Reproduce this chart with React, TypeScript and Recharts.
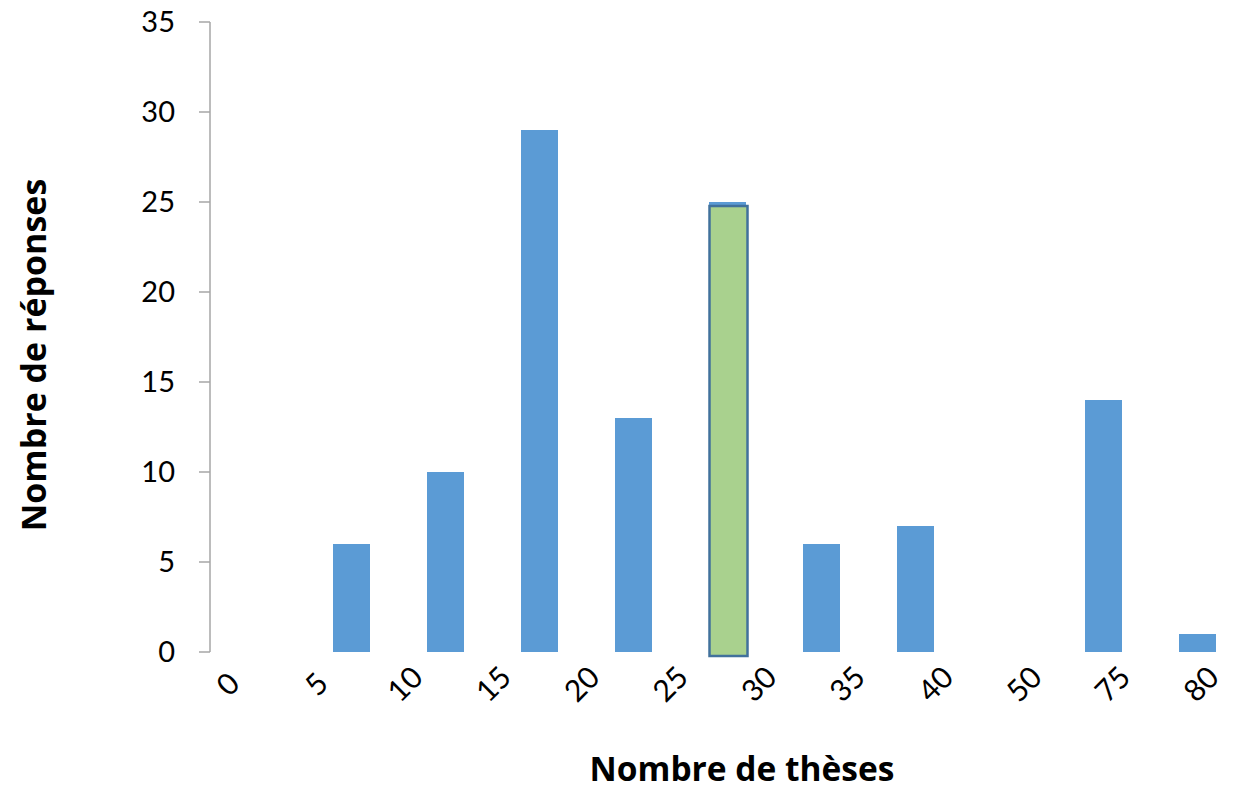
import React from "react";
import { BarChart, Bar, XAxis, YAxis, Label } from "recharts";

// intervals of "nombre de thèses" and how many answers fell in each
const ranges = ["0-5", "5-10", "10-15", "15-20", "20-25", "25-30", "30-35", "35-40", "40-50", "50-75", "75-80"];
const responses = [0, 6, 10, 29, 13, 25, 6, 7, 0, 14, 1];
const highlighted = [false, false, false, false, false, true, false, false, false, false, false];
const boundaryLabels = ["0", "5", "10", "15", "20", "25", "30", "35", "40", "50", "75", "80"];
const yTicks = [0, 5, 10, 15, 20, 25, 30, 35];

const data = ranges.map((r, i) => ({
  range: r,
  idx: i,
  responses: responses[i],
  highlight: highlighted[i],
}));
const boundaryTicks = boundaryLabels.map((_, i) => i);

const FONT = "Lato, 'Open Sans', sans-serif";
const TITLE_FONT = "'Open Sans', Lato, sans-serif";
const BLUE = "#5b9bd5";

const BarShape = (props: any) => {
  const { x, y, width, height, payload } = props;
  if (!height || height <= 0) return null;
  return (
    <g>
      <rect x={x} y={y} width={width} height={height} fill={BLUE} />
      {payload.highlight && (
        <rect
          x={x + 0.5}
          y={y + 4}
          width={width + 1}
          height={height}
          fill="#a9d18e"
          stroke="#41719c"
          strokeWidth={2.5}
        />
      )}
    </g>
  );
};

const BoundaryTick = (props: any) => {
  const { x, y, payload } = props;
  const cx = x;
  const cy = y + 1;
  return (
    <text
      x={cx}
      y={cy}
      textAnchor="middle"
      dominantBaseline="central"
      fontSize={30}
      fontFamily={FONT}
      fill="#000"
      transform={`rotate(-45, ${cx}, ${cy})`}
    >
      {boundaryLabels[payload.value]}
    </text>
  );
};

export default function App() {
  return (
    <div style={{ position: "absolute", left: 0, top: 0, background: "#fff" }}>
      <BarChart
        width={1248}
        height={790}
        data={data}
        margin={{ top: 22, right: 4, left: 0, bottom: 0 }}
      >
        <XAxis xAxisId="cat" dataKey="range" hide />
        <XAxis
          xAxisId="lab"
          dataKey="idx"
          type="number"
          domain={[0, 11]}
          ticks={boundaryTicks}
          allowDataOverflow
          padding={{ left: 17, right: 44 }}
          axisLine={false}
          tickLine={false}
          tickSize={0}
          tickMargin={0}
          height={138}
          tick={<BoundaryTick />}
          interval={0}
        >
          <Label
            content={() => (
              <text
                x={742}
                y={781}
                textAnchor="middle"
                fontSize={33.5}
                fontWeight="bold"
                fontFamily={TITLE_FONT}
                fill="#000"
              >
                Nombre de thèses
              </text>
            )}
          />
        </XAxis>
        <YAxis
          domain={[0, 35]}
          ticks={yTicks}
          width={210}
          axisLine={{ stroke: "#a6a6a6", strokeWidth: 1.5 }}
          tickLine={{ stroke: "#a6a6a6", strokeWidth: 1.5 }}
          tickSize={11}
          tickMargin={24}
          tick={{ fontSize: 29, fontFamily: FONT, fill: "#000" }}
        >
          <Label
            content={() => (
              <text
                x={33}
                y={355}
                textAnchor="middle"
                dominantBaseline="central"
                fontSize={34}
                fontWeight="bold"
                fontFamily={TITLE_FONT}
                fill="#000"
                transform="rotate(-90, 33, 355)"
              >
                Nombre de réponses
              </text>
            )}
          />
        </YAxis>
        <Bar
          xAxisId="cat"
          dataKey="responses"
          barSize={37}
          fill={BLUE}
          shape={<BarShape />}
          isAnimationActive={false}
        />
      </BarChart>
    </div>
  );
}
